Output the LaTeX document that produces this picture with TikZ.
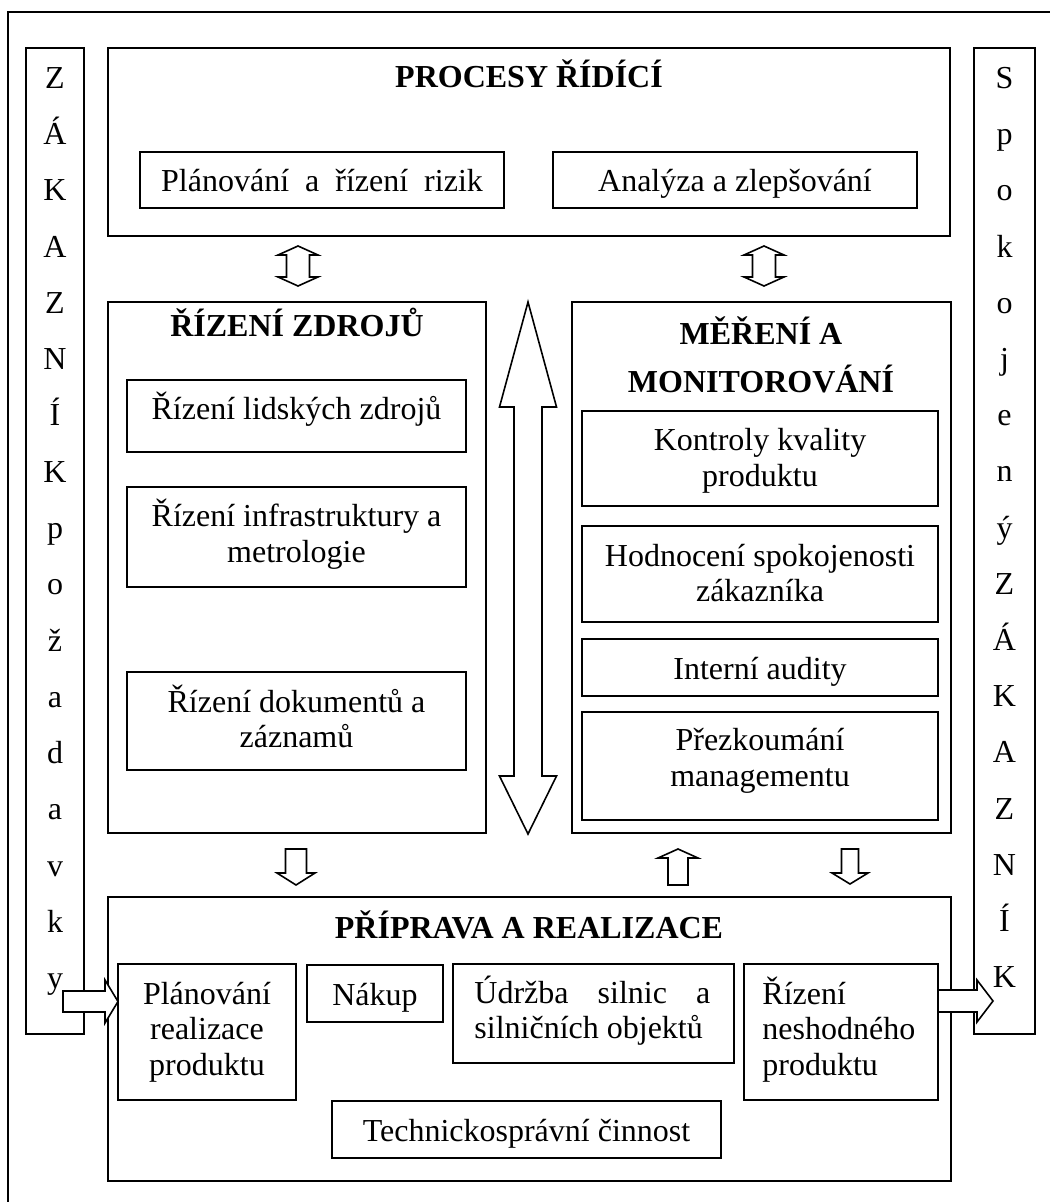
\documentclass[tikz,border=0pt]{standalone}
\usepackage{fontspec}
\setmainfont{Liberation Serif}

% vertical double block arrow: cx, tip1, base1, base2, tip2, shaft half-width, head half-width
\newcommand\blockvv[7]{%
  \draw[blk] (#1,#2) -- (#1+#7,#3) -- (#1+#6,#3) -- (#1+#6,#4) -- (#1+#7,#4) -- (#1,#5)
    -- (#1-#7,#4) -- (#1-#6,#4) -- (#1-#6,#3) -- (#1-#7,#3) -- cycle;}
% vertical single block arrow: cx, tail, head base, tip, shaft half-width, head half-width
\newcommand\blockv[6]{%
  \draw[blk] (#1-#5,#2) -- (#1+#5,#2) -- (#1+#5,#3) -- (#1+#6,#3) -- (#1,#4)
    -- (#1-#6,#3) -- (#1-#5,#3) -- cycle;}
% horizontal single block arrow: cy, tail, head base, tip, shaft half-width, head half-width
\newcommand\blockh[6]{%
  \draw[blk] (#2,#1-#5) -- (#3,#1-#5) -- (#3,#1-#6) -- (#4,#1) -- (#3,#1+#6)
    -- (#3,#1+#5) -- (#2,#1+#5) -- cycle;}

\begin{document}
\begin{tikzpicture}[x=0.5pt,y=-0.5pt,
  frame/.style={line width=1pt},
  bx/.style={draw, line width=1pt},
  blk/.style={draw, line width=0.8pt, fill=white, line join=miter},
  % multi-line nodes are placed by the baseline of their last line
  txt/.style={inner sep=0pt, anchor=base, font=\fontsize{16}{17.75}\selectfont},
  ttl/.style={txt, font=\fontsize{16}{17.75}\selectfont\bfseries},
]
\useasboundingbox (0,0) rectangle (1050,1202);

% outer frame (open to the right and bottom)
\draw[frame] (8,1202) -- (8,12) -- (1050,12);

% side columns
\draw[bx] (26,48) rectangle (84,1034);
\draw[bx] (974,48) rectangle (1035,1034);
\foreach \c [count=\i from 0] in {Z,Á,K,A,Z,N,Í,K,p,o,ž,a,d,a,v,k,y}
  \node[txt] (zl\i) at (55,88.5+56.25*\i) {\c};
\foreach \c [count=\i from 0] in {S,p,o,k,o,j,e,n,ý,Z,Á,K,A,Z,N,Í,K}
  \node[txt] (zr\i) at (1004.5,88.5+56.2*\i) {\c};

% control processes
\draw[bx] (108,48) rectangle (950,236);
\node[ttl] (t-proc) at (529,88) {PROCESY ŘÍDÍCÍ};
\draw[bx] (140,152) rectangle (504,208);
\node[txt] (p1) at (322,192) {Plánování~~a~~řízení~~rizik};
\draw[bx] (553,152) rectangle (917,208);
\node[txt] (p2) at (735,192) {Analýza a zlepšování};

% resource management
\draw[bx] (108,302) rectangle (486,833);
\node[ttl] (t-rz) at (297,337) {ŘÍZENÍ ZDROJŮ};
\draw[bx] (127,380) rectangle (466,452);
\node[txt] (rz1) at (296.5,420) {Řízení lidských zdrojů};
\draw[bx] (127,487) rectangle (466,587);
\node[txt, align=center] (rz2) at (296.5,562) {Řízení infrastruktury a\\metrologie};
\draw[bx] (127,672) rectangle (466,770);
\node[txt, align=center] (rz3) at (296.5,747.5) {Řízení dokumentů a\\záznamů};

% measurement and monitoring
\draw[bx] (572,302) rectangle (951,833);
\node[ttl] (t-mm1) at (761,345) {MĚŘENÍ A};
\node[ttl] (t-mm2) at (761,393) {MONITOROVÁNÍ};
\draw[bx] (582,411) rectangle (938,506);
\node[txt, align=center] (mm1) at (760,486.5) {Kontroly kvality\\produktu};
\draw[bx] (582,526) rectangle (938,622);
\node[txt, align=center] (mm2) at (760,601.5) {Hodnocení spokojenosti\\zákazníka};
\draw[bx] (582,639) rectangle (938,696);
\node[txt] (mm3) at (760,679) {Interní audity};
\draw[bx] (582,712) rectangle (938,820);
\node[txt, align=center] (mm4) at (760,786) {Přezkoumání\\managementu};

% preparation and realisation
\draw[bx] (108,897) rectangle (951,1181);
\node[ttl] (t-pr) at (529,938) {PŘÍPRAVA A REALIZACE};
\draw[bx] (118,964) rectangle (296,1100);
\node[txt, align=center] (pr1) at (207,1075) {Plánování\\realizace\\produktu};
\draw[bx] (307,965) rectangle (443,1022);
\node[txt] (pr2) at (375,1005) {Nákup};
\draw[bx] (453,964) rectangle (734,1063);
\node[txt, align=left, anchor=base west] (pr3) at (474,1038.5)
  {\makebox[118pt][s]{Údržba silnic a}\\silničních objektů};
\draw[bx] (744,964) rectangle (938,1100);
\node[txt, align=left, anchor=base west] (pr4) at (762,1075) {Řízení\\neshodného\\produktu};
\draw[bx] (332,1101) rectangle (721,1158);
\node[txt] (pr5) at (526.5,1141) {Technickosprávní činnost};

% block arrows
\blockvv{298}{246}{255}{277}{286}{11.5}{20}
\blockvv{764}{246}{255}{277}{286}{11.5}{20}
\blockvv{528}{302}{407}{776}{834}{14}{28.5}
\blockv{296}{849}{873}{885}{10.5}{19}
\blockv{850}{849}{873}{884}{8.5}{18}
\blockv{678}{885}{858}{849}{10}{20}
\blockh{1001.5}{63}{105}{118}{10.5}{21.5}
\blockh{1001}{938}{977}{993}{11}{21}
\end{tikzpicture}
\end{document}
